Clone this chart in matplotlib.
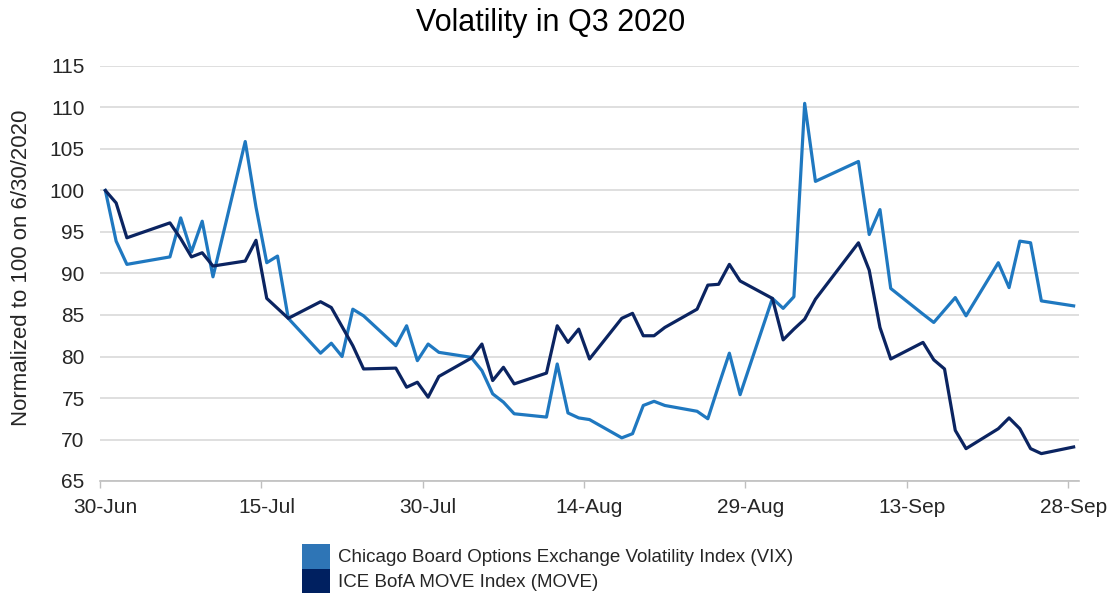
import numpy as np
import pandas as pd
import matplotlib
matplotlib.use("Agg")
import matplotlib.pyplot as plt
import matplotlib.dates as mdates
from matplotlib.patches import Patch

plt.rcParams['font.family'] = ['Liberation Sans', 'DejaVu Sans']

# trading days of Q3 2020 shown in the chart
dates = pd.to_datetime([
    "2020-06-30", "2020-07-01", "2020-07-02", "2020-07-06", "2020-07-07", "2020-07-08",
    "2020-07-09", "2020-07-10", "2020-07-13", "2020-07-14", "2020-07-15", "2020-07-16",
    "2020-07-17", "2020-07-20", "2020-07-21", "2020-07-22", "2020-07-23", "2020-07-24",
    "2020-07-27", "2020-07-28", "2020-07-29", "2020-07-30", "2020-07-31", "2020-08-03",
    "2020-08-04", "2020-08-05", "2020-08-06", "2020-08-07", "2020-08-10", "2020-08-11",
    "2020-08-12", "2020-08-13", "2020-08-14", "2020-08-17", "2020-08-18", "2020-08-19",
    "2020-08-20", "2020-08-21", "2020-08-24", "2020-08-25", "2020-08-26", "2020-08-27",
    "2020-08-28", "2020-08-31", "2020-09-01", "2020-09-02", "2020-09-03", "2020-09-04",
    "2020-09-08", "2020-09-09", "2020-09-10", "2020-09-11", "2020-09-14", "2020-09-15",
    "2020-09-16", "2020-09-17", "2020-09-18", "2020-09-21", "2020-09-22", "2020-09-23",
    "2020-09-24", "2020-09-25", "2020-09-28",
])

vix = [
    100.0, 93.9, 91.1, 92.0, 96.7, 92.6, 96.3, 89.6, 105.9, 98.0, 91.3, 92.1,
    84.6, 80.4, 81.6, 80.0, 85.7, 84.9, 81.3, 83.7, 79.5, 81.5, 80.5, 79.9,
    78.3, 75.5, 74.5, 73.1, 72.7, 79.1, 73.2, 72.6, 72.4, 70.2, 70.7, 74.1,
    74.6, 74.1, 73.4, 72.5, 76.5, 80.4, 75.4, 87.0, 85.8, 87.2, 110.5, 101.1,
    103.5, 94.7, 97.7, 88.2, 85.1, 84.1, 85.6, 87.1, 84.9, 91.3, 88.3, 93.9,
    93.7, 86.7, 86.1,
]

move = [
    100.0, 98.5, 94.3, 96.1, 94.2, 92.0, 92.5, 90.9, 91.5, 94.0, 87.0, 85.8,
    84.6, 86.6, 85.9, 83.6, 81.3, 78.5, 78.6, 76.3, 76.9, 75.1, 77.6, 79.8,
    81.5, 77.1, 78.7, 76.7, 78.0, 83.7, 81.7, 83.3, 79.7, 84.6, 85.2, 82.5,
    82.5, 83.5, 85.7, 88.6, 88.7, 91.1, 89.1, 87.0, 82.0, 83.3, 84.5, 86.9,
    93.7, 90.4, 83.5, 79.7, 81.7, 79.6, 78.5, 71.1, 68.9, 71.3, 72.6, 71.3,
    68.9, 68.3, 69.1,
]

tick_dates = pd.date_range("2020-06-30", periods=7, freq="15D")
series_labels = ["Chicago Board Options Exchange Volatility Index (VIX)",
                 "ICE BofA MOVE Index (MOVE)"]

vix_color = "#1F78C0"
move_color = "#0B2461"
text_color = "#262626"
half_day = pd.Timedelta(hours=12)

fig = plt.figure(figsize=(11.09, 5.95), dpi=100)
ax = fig.add_axes([100 / 1109, 1 - 481 / 595, 979 / 1109, 415 / 595])

ax.plot(dates, vix, color=vix_color, linewidth=2.3, solid_joinstyle="round")
ax.plot(dates, move, color=move_color, linewidth=2.3, solid_joinstyle="round")

ax.set_ylim(65, 115)
ax.set_yticks(np.arange(65, 116, 5))
ax.set_xlim(dates[0] - half_day, dates[-1] + half_day)

# tick marks sit between days, labels under the day itself
ax.set_xticks(tick_dates - half_day)
ax.set_xticklabels([])
ax.set_xticks(tick_dates, minor=True)
ax.xaxis.set_minor_formatter(mdates.DateFormatter("%-d-%b"))
ax.tick_params(axis="x", which="major", length=5, width=1, color="#BFBFBF")
ax.tick_params(axis="x", which="minor", length=0, pad=12, labelsize=15, labelcolor=text_color)
ax.tick_params(axis="y", length=0, pad=11, labelsize=15, labelcolor=text_color)

ax.grid(axis="y", color="#D9D9D9", linewidth=1.2)
ax.set_axisbelow(True)
for side in ["top", "right", "left"]:
    ax.spines[side].set_visible(False)
ax.spines["bottom"].set_color("#BFBFBF")
ax.spines["bottom"].set_linewidth(1.2)

fig.text(551 / 1109, 1 - 23 / 595, "Volatility in Q3 2020", ha="center", va="center",
         fontsize=22, color="black")
fig.text(22 / 1109, 1 - 268 / 595, "Normalized to 100 on 6/30/2020", rotation=90,
         ha="center", va="center", fontsize=16, color=text_color)

handles = [Patch(facecolor="#2E75B6", edgecolor="none", label=series_labels[0]),
           Patch(facecolor="#002060", edgecolor="none", label=series_labels[1])]
fig.legend(handles=handles, loc="upper left", bbox_to_anchor=(302 / 1109, 1 - 544 / 595),
           frameon=False, fontsize=13.5, handlelength=1.5, handleheight=1.65,
           labelspacing=0.0, handletextpad=0.4, borderpad=0, borderaxespad=0,
           labelcolor=text_color)

fig.savefig("out.png", dpi=100)
